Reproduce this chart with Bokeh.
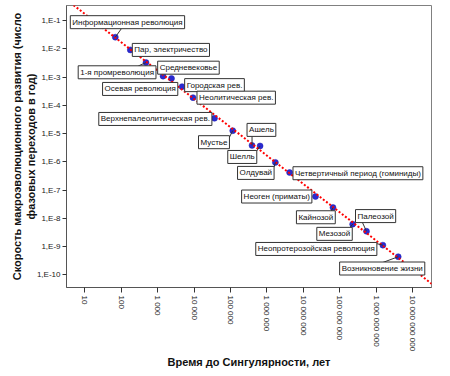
import math
import numpy as np
from bokeh.plotting import figure
from bokeh.models import Range1d, FixedTicker, CustomJSTickFormatter, Label
from bokeh.embed import file_html
from bokeh.resources import INLINE

# ---------------- data ----------------
events = [
    "Информационная революция", "Пар, электричество", "1-я промреволюция",
    "Средневековье", "Осевая революция", "Городская рев.", "Неолитическая рев.",
    "Верхнепалеолитическая рев.", "Мустье", "Ашель", "Шелль", "Олдувай",
    "Четвертичный период (гоминиды)", "Неоген (приматы)", "Кайнозой", "Мезозой",
    "Палеозой", "Неопротерозойская революция", "Возникновение жизни",
]
time_to_singularity = [
    69, 178, 479, 1410, 2400, 4680, 9330, 36300, 115000, 389000, 646000,
    1.70e6, 4.17e6, 2.14e7, 6.46e7, 2.24e8, 5.37e8, 1.51e9, 3.98e9,
]
rate = [
    2.57e-2, 9.1e-3, 3.24e-3, 1.07e-3, 8.9e-4, 4.57e-4, 1.86e-4, 3.47e-5,
    1.26e-5, 3.8e-6, 3.63e-6, 9.5e-7, 4.17e-7, 5.9e-8, 2.4e-8, 6.2e-9,
    3.47e-9, 1.12e-9, 4.37e-10,
]
x_ticks = [1e1, 1e2, 1e3, 1e4, 1e5, 1e6, 1e7, 1e8, 1e9, 1e10]
x_tick_labels = ["10", "100", "1 000", "10 000", "100 000", "1 000 000",
                 "10 000 000", "100 000 000", "1 000 000 000", "10 000 000 000"]
y_ticks = [1e-1, 1e-2, 1e-3, 1e-4, 1e-5, 1e-6, 1e-7, 1e-8, 1e-9, 1e-10]
y_tick_labels = ["1,E-1", "1,E-2", "1,E-3", "1,E-4", "1,E-5", "1,E-6",
                 "1,E-7", "1,E-8", "1,E-9", "1,E-10"]

# ---------------- layout (screen px offsets, styles) ----------------
FW, FH = 365, 282
XLOG = (0.5, 10.513)
YLOG = (-10.449, -0.469)
PPX = FW / (XLOG[1] - XLOG[0])
PPY = FH / (YLOG[1] - YLOG[0])

# (align, dx, dy_up, leader_dx, leader_dy_up)  — None leader = no line
label_layout = [
    ("left", -45, 15, 6, 8.4),
    ("left", 2, 0, None, None),
    ("right", 10, -9.7, -7.7, -3.4),
    ("left", -5.4, 8.5, None, None),
    ("right", 6.3, -10.5, None, None),
    ("left", 2.6, 1.5, None, None),
    ("left", 4, 0, None, None),
    ("right", -2.6, -0.7, None, None),
    ("right", -3.3, -11.5, -3.3, -6.5),
    ("left", -5, 15.5, 0, 10),
    ("right", -3.3, -11, -3.3, -5),
    ("right", -1.3, -10.5, -1.3, -4.7),
    ("left", 3.4, -0.7, None, None),
    ("right", -3.6, 0, None, None),
    ("right", 2.3, -9.7, -1.7, -3.4),
    ("right", -0.4, -9.7, -2.7, -3.3),
    ("left", -11, 15.2, -4.3, 9.3),
    ("right", -6, -3.8, -6, 1.5),
    ("center", -16, -11.8, -16, -6),
]

FONT = "Liberation Sans"

p = figure(
    frame_width=FW, frame_height=FH,
    x_axis_type="log", y_axis_type="log",
    x_range=Range1d(10 ** XLOG[0], 10 ** XLOG[1]),
    y_range=Range1d(10 ** YLOG[0], 10 ** YLOG[1]),
    output_backend="svg", toolbar_location=None,
    min_border_left=66, min_border_right=19,
    min_border_top=5, min_border_bottom=89,
    background_fill_color="white", border_fill_color="white",
)
p.outline_line_color = "#808080"
p.outline_line_width = 1
p.xgrid.visible = False
p.ygrid.visible = False

fmt_code = """
const k = tks.findIndex(t => Math.abs(Math.log10(t) - Math.log10(tick)) < 1e-6);
return k >= 0 ? lbls[k] : "";
"""
p.xaxis.ticker = FixedTicker(ticks=x_ticks, minor_ticks=[])
p.yaxis.ticker = FixedTicker(ticks=y_ticks, minor_ticks=[])
p.xaxis.formatter = CustomJSTickFormatter(args=dict(tks=x_ticks, lbls=x_tick_labels), code=fmt_code)
p.yaxis.formatter = CustomJSTickFormatter(args=dict(tks=y_ticks, lbls=y_tick_labels), code=fmt_code)
for ax in (p.xaxis[0], p.yaxis[0]):
    ax.axis_line_color = "#555555"
    ax.major_tick_line_color = "#333333"
    ax.major_tick_in = 0
    ax.minor_tick_line_color = None
    ax.major_label_text_font = FONT
    ax.major_label_text_font_size = "8px"
    ax.major_label_text_color = "#222222"
    ax.axis_label_text_font = FONT
    ax.axis_label_text_font_size = "11px"
    ax.axis_label_text_font_style = "bold"
    ax.axis_label_text_color = "#111111"
p.xaxis.major_tick_out = 5
p.yaxis.major_tick_out = 4
p.xaxis.major_label_orientation = -math.pi / 2
p.xaxis.major_label_standoff = 3
p.yaxis.major_label_standoff = 2
p.xaxis.axis_label = "Время до Сингулярности, лет"
p.yaxis.axis_label = "Скорость макроэволюционного развития (число\nфазовых переходов в год)"
p.xaxis.axis_label_standoff = 2
p.yaxis.axis_label_standoff = -3

# points
p.scatter(time_to_singularity, rate, size=6, marker="circle",
          fill_color="#2a2ad2", line_color="#1f1fb0", line_width=0.5)

# regression line (log-log least squares fit of the data)
m, b = np.polyfit(np.log10(time_to_singularity), np.log10(rate), 1)
lx = np.array([0.0, 11.0])
p.line(10 ** lx, 10 ** (b + m * lx), line_color="#ff0000",
       line_width=2, line_dash="2 2")

# leader lines
x0s, y0s, x1s, y1s = [], [], [], []
for (align, dx, dy, ldx, ldy), x, y in zip(label_layout, time_to_singularity, rate):
    if ldx is None:
        continue
    x0s.append(x)
    y0s.append(y)
    x1s.append(x * 10 ** (ldx / PPX))
    y1s.append(y * 10 ** (ldy / PPY))
p.segment(x0s, y0s, x1s, y1s, line_color="#333333", line_width=1)

# labels
for name, (align, dx, dy, ldx, ldy), x, y in zip(events, label_layout, time_to_singularity, rate):
    p.add_layout(Label(
        x=x, y=y, x_offset=dx, y_offset=dy, text=name,
        text_align=align, text_baseline="middle",
        text_font=FONT, text_font_size="8px", text_color="#111111",
        background_fill_color="white", background_fill_alpha=1.0,
        border_line_color="#333333", border_line_width=1,
        padding=2,
    ))

open("out.html", "w").write(file_html(p, INLINE))
